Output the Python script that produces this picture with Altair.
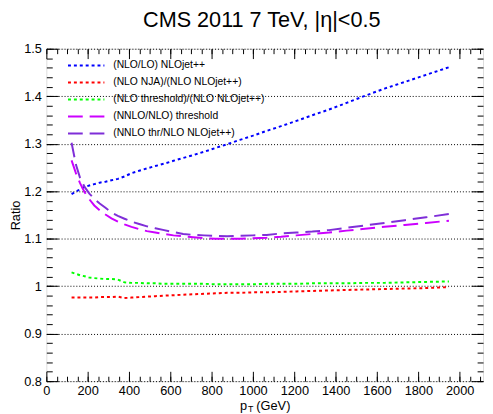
import altair as alt
import pandas as pd

F = "Liberation Sans"

# pT bin centres (GeV)
pt = [122, 143, 163, 185, 208, 232, 258, 286, 315, 346, 378, 412, 449, 487, 527,
      570, 615, 662, 711, 763, 818, 875, 936, 1000, 1066, 1136, 1210, 1287, 1368,
      1453, 1542, 1636, 1734, 1837, 1948]

nlo_lo = [1.194, 1.199, 1.204, 1.209, 1.212, 1.215, 1.218, 1.220, 1.223, 1.226, 1.231,
          1.238, 1.243, 1.248, 1.253, 1.258, 1.264, 1.270, 1.276, 1.283, 1.291, 1.299,
          1.308, 1.317, 1.327, 1.337, 1.348, 1.360, 1.372, 1.386, 1.401, 1.416, 1.430,
          1.445, 1.461]

nlo_nja = [0.976, 0.976, 0.976, 0.976, 0.976, 0.976, 0.977, 0.977, 0.977, 0.978, 0.975,
           0.976, 0.977, 0.978, 0.979, 0.980, 0.981, 0.982, 0.983, 0.984, 0.985, 0.986,
           0.986, 0.987, 0.987, 0.988, 0.989, 0.990, 0.991, 0.992, 0.993, 0.994, 0.995,
           0.996, 0.998]

nlo_thr = [1.029, 1.026, 1.023, 1.021, 1.018, 1.017, 1.016, 1.015, 1.015, 1.014, 1.008,
           1.007, 1.007, 1.006, 1.006, 1.005, 1.005, 1.005, 1.005, 1.005, 1.004, 1.004,
           1.004, 1.004, 1.005, 1.005, 1.005, 1.006, 1.006, 1.006, 1.007, 1.007, 1.008,
           1.009, 1.010]

nnlo_nlo_thr = [1.265, 1.238, 1.217, 1.198, 1.183, 1.170, 1.160, 1.151, 1.143, 1.136,
                1.130, 1.125, 1.120, 1.116, 1.113, 1.110, 1.107, 1.105, 1.103, 1.101,
                1.100, 1.100, 1.100, 1.101, 1.102, 1.104, 1.107, 1.110, 1.113, 1.117,
                1.121, 1.125, 1.129, 1.133, 1.138]

nnlo_thr_nlojet = [1.302, 1.256, 1.228, 1.209, 1.195, 1.184, 1.174, 1.165, 1.155, 1.148,
                   1.142, 1.136, 1.131, 1.126, 1.122, 1.118, 1.114, 1.110, 1.108, 1.107,
                   1.106, 1.105, 1.106, 1.107, 1.108, 1.111, 1.113, 1.115, 1.118, 1.123,
                   1.128, 1.133, 1.139, 1.145, 1.152]

series_names = ["(NLO/LO) NLOjet++", "(NLO NJA)/(NLO NLOjet++)",
                "(NLO threshold)/(NLO NLOjet++)", "(NNLO/NLO) threshold",
                "(NNLO thr/NLO NLOjet++)"]
series_vals = [nlo_lo, nlo_nja, nlo_thr, nnlo_nlo_thr, nnlo_thr_nlojet]
colors = ["#0000ff", "#ff0000", "#00ff00", "#cc00ff", "#7f2ed8"]
dashes = [[3, 3], [3, 3], [3, 3], [15, 7], [15, 7]]

x_major = [0, 200, 400, 600, 800, 1000, 1200, 1400, 1600, 1800, 2000]
x_minor = [50 * i for i in range(43)]
y_major = [0.8, 0.9, 1.0, 1.1, 1.2, 1.3, 1.4, 1.5]
y_minor = [round(0.8 + 0.02 * i, 2) for i in range(36)]

rows = []
for name, vals in zip(series_names, series_vals):
    for x, v in zip(pt, vals):
        rows.append({"pt": x, "ratio": v, "series": name})
df = pd.DataFrame(rows)

W, H = 444, 338
xs = alt.Scale(domain=[0, 2113], nice=False, zero=False)
ys = alt.Scale(domain=[0.8, 1.5], nice=False, zero=False)


def make_legend():
    return alt.Legend(
        title=None, orient="none", legendX=21, legendY=9.5, symbolType="stroke",
        symbolSize=1369, symbolStrokeWidth=2, labelFontSize=10.5, labelFont=F,
        labelColor="black", labelOffset=8, clipHeight=15, rowPadding=2.3,
        padding=0, labelLimit=400)


lines = alt.Chart(df).mark_line(strokeWidth=2, clip=True).encode(
    x=alt.X("pt:Q", scale=xs, axis=alt.Axis(
        orient="bottom", values=x_major, format="d", ticks=False, tickSize=0,
        domain=False, labelPadding=4, labelFontSize=13, labelFont=F,
        labelColor="black", title=None, grid=False, labelFlush=False)),
    y=alt.Y("ratio:Q", scale=ys, axis=alt.Axis(
        orient="left", values=y_major, format=".1~f", ticks=False, tickSize=0,
        domain=False, labelPadding=5, labelFontSize=13, labelFont=F,
        labelColor="black", grid=True, gridDash=[1, 2], gridColor="black",
        gridWidth=1, gridOpacity=1, title="Ratio", titleFont=F, titleFontSize=13,
        titleFontWeight="normal", titleColor="black", titleX=-31, titleY=H / 2,
        titleAngle=270, titleAlign="center", titleBaseline="middle", labelFlush=False)),
    color=alt.Color("series:N", scale=alt.Scale(domain=series_names, range=colors),
                    legend=make_legend()),
    strokeDash=alt.StrokeDash("series:N", scale=alt.Scale(domain=series_names, range=dashes),
                              legend=make_legend()),
)


def tick_layer(xorient, xvals, xsize, yorient, yvals, ysize):
    return alt.Chart(df).mark_point(opacity=0).encode(
        x=alt.X("pt:Q", scale=xs, axis=alt.Axis(
            orient=xorient, offset=-H, values=xvals, tickSize=xsize, ticks=True,
            tickColor="black", tickWidth=1, labels=False, domain=False, grid=False,
            title=None)),
        y=alt.Y("ratio:Q", scale=ys, axis=alt.Axis(
            orient=yorient, offset=-W, values=yvals, tickSize=ysize, ticks=True,
            tickColor="black", tickWidth=1, labels=False, domain=False, grid=False,
            title=None)),
    )


t1 = tick_layer("top", x_major, 10, "right", y_major, 12)
t2 = tick_layer("top", x_minor, 5, "right", y_minor, 6)
t3 = tick_layer("bottom", x_major, 10, "left", y_major, 12)
t4 = tick_layer("bottom", x_minor, 5, "left", y_minor, 6)

xt_main = alt.Chart(pd.DataFrame({"t": ["p"]})).mark_text(
    align="left", baseline="alphabetic", fontSize=13, font=F, color="black"
).encode(text="t:N", x=alt.value(197), y=alt.value(367))
xt_sub = alt.Chart(pd.DataFrame({"t": ["T"]})).mark_text(
    align="left", baseline="alphabetic", fontSize=9, font=F, color="black"
).encode(text="t:N", x=alt.value(205), y=alt.value(369))
xt_unit = alt.Chart(pd.DataFrame({"t": ["(GeV)"]})).mark_text(
    align="left", baseline="alphabetic", fontSize=13, font=F, color="black"
).encode(text="t:N", x=alt.value(213.5), y=alt.value(367))

chart = alt.layer(lines, t1, t2, t3, t4, xt_main, xt_sub, xt_unit).resolve_axis(
    x="independent", y="independent"
).resolve_scale(x="shared", y="shared").properties(
    width=W, height=H,
    title=alt.TitleParams("CMS 2011 7 TeV, |η|<0.5", fontSize=22, font=F,
                          fontWeight="normal", anchor="middle", color="black",
                          frame="group", offset=-6, baseline="alphabetic", dx=-3),
    autosize=alt.AutoSizeParams(type="none"),
    padding={"left": 39, "top": 38, "right": 2, "bottom": 32},
).configure_view(
    stroke="black", strokeWidth=1
).configure(background="white")

chart.save("out.html", embed_options={"renderer": "svg", "actions": False})
